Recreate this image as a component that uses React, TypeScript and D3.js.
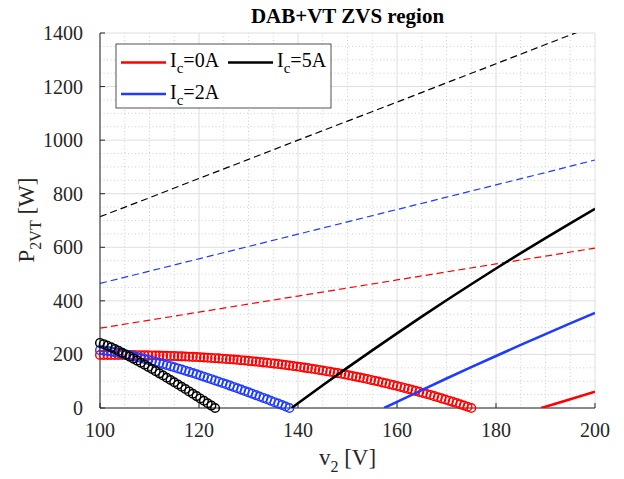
import React from 'react';
import * as d3 from 'd3';

// ---------- data ----------
const V_GRID = [
  100, 100.75, 101.5, 102.25, 103, 103.75, 104.5, 105.25, 106, 106.75,
  107.5, 108.25, 109, 109.75, 110.5, 111.25, 112, 112.75, 113.5, 114.25,
  115, 115.75, 116.5, 117.25, 118, 118.75, 119.5, 120.25, 121, 121.75,
  122.5, 123.25, 124, 124.75, 125.5, 126.25, 127, 127.75, 128.5, 129.25,
  130, 130.75, 131.5, 132.25, 133, 133.75, 134.5, 135.25, 136, 136.75,
  137.5, 138.25, 139, 139.75, 140.5, 141.25, 142, 142.75, 143.5, 144.25,
  145, 145.75, 146.5, 147.25, 148, 148.75, 149.5, 150.25, 151, 151.75,
  152.5, 153.25, 154, 154.75, 155.5, 156.25, 157, 157.75, 158.5, 159.25,
  160, 160.75, 161.5, 162.25, 163, 163.75, 164.5, 165.25, 166, 166.75,
  167.5, 168.25, 169, 169.75, 170.5, 171.25, 172, 172.75, 173.5, 174.25,
  175,
];

// ZVS boundary markers (circles)
const P_CIRC_0A = [
  198, 198, 198, 198, 197.9, 197.9, 197.8, 197.7, 197.5, 197.4,
  197.2, 197.0, 196.8, 196.5, 196.2, 195.9, 195.6, 195.2, 194.8, 194.3,
  193.8, 193.3, 192.8, 192.2, 191.6, 190.9, 190.2, 189.4, 188.7, 187.8,
  187.0, 186.1, 185.2, 184.2, 183.1, 182.1, 181.0, 179.8, 178.6, 177.3,
  176.0, 174.7, 173.3, 171.9, 170.4, 168.9, 167.3, 165.7, 164.0, 162.3,
  160.5, 158.7, 156.8, 154.8, 152.9, 150.8, 148.8, 146.6, 144.4, 142.2,
  139.9, 137.5, 135.1, 132.7, 130.2, 127.6, 125.0, 122.3, 119.5, 116.7,
  113.9, 110.9, 108.0, 104.9, 101.9, 98.7, 95.5, 92.2, 88.9, 85.5,
  82.1, 78.6, 75.0, 71.4, 67.7, 64.0, 60.2, 56.3, 52.4, 48.4,
  44.3, 40.1, 35.9, 31.7, 27.3, 22.9, 18.5, 14.0, 9.4, 4.7,
  0,
];
const P_CIRC_2A = [
  216, 214.7, 212.8, 210.6, 208.1, 205.5, 202.6, 199.6, 196.6, 193.3,
  190.0, 186.6, 183.1, 179.5, 175.8, 172.0, 168.2, 164.2, 160.2, 156.2,
  152.0, 147.8, 143.6, 139.3, 134.9, 130.5, 126.1, 121.5, 117.0, 112.3,
  107.7, 102.9, 98.2, 93.4, 88.5, 83.6, 78.7, 73.7, 68.6, 63.6,
  58.5, 53.4, 48.1, 43.0, 37.7, 32.5, 27.1, 21.7, 16.4, 11.0,
  5.5, 0,
];
const P_CIRC_5A = [
  243, 238.3, 232.6, 226.4, 219.9, 213.2, 206.2, 199.1, 191.8, 184.4,
  176.8, 169.2, 161.4, 153.5, 145.6, 137.6, 129.3, 121.2, 113.0, 104.7,
  96.2, 87.6, 79.1, 70.7, 61.9, 53.2, 44.4, 35.7, 26.8, 17.9,
  9.0, 0,
];

// solid curves
const V_SOLID_0A = [189.1, 190, 195, 200];
const P_SOLID_0A = [0, 5.0, 33.0, 61];
const V_SOLID_2A = [157.4, 160, 165, 170, 175, 180, 185, 190, 195, 200];
const P_SOLID_2A = [0, 23.0, 66.9, 110.0, 152.5, 194.3, 235.5, 276.0, 315.8, 355];
const V_SOLID_5A = [138.7, 140, 145, 150, 155, 160, 165, 170, 175, 180, 185, 190, 195, 200];
const P_SOLID_5A = [0, 17.6, 84.7, 150.6, 215.3, 278.8, 341.1, 402.2, 462.1, 520.8, 578.3, 634.5, 689.6, 743.5];

// dashed curves
const V_DASH = [100, 110, 120, 130, 140, 150, 160, 170, 180, 190, 200];
const P_DASH_0A = [298, 328, 358, 388, 418, 448, 478, 508, 538, 567, 597];
const P_DASH_2A = [465, 511, 557, 603, 649, 695, 741, 787, 833, 879, 926];
const P_DASH_5A = [714, 785, 857, 928, 1000, 1071, 1142, 1214, 1285, 1357, 1428];

const X_TICKS = [100, 120, 140, 160, 180, 200];
const Y_TICKS = [0, 200, 400, 600, 800, 1000, 1200, 1400];
const X_MINOR = [105, 110, 115, 125, 130, 135, 145, 150, 155, 165, 170, 175, 185, 190, 195];
const Y_MINOR = [50, 100, 150, 250, 300, 350, 450, 500, 550, 650, 700, 750, 850, 900, 950, 1050, 1100, 1150, 1250, 1300, 1350];

const LEGEND_LABELS = ['0A', '2A', '5A'];
const COLORS = ['#ff0000', '#1e3cff', '#000000'];

// ---------- layout ----------
const W = 624;
const H = 479;
const L = 100, R = 595, T = 33, B = 408;
const FONT = "'Liberation Serif', 'Times New Roman', Times, serif";
const TXT = { fontFamily: FONT };

export default function App() {
  const x = d3.scaleLinear().domain([100, 200]).range([L, R]);
  const y = d3.scaleLinear().domain([0, 1400]).range([B, T]);
  const line = d3
    .line<[number, number]>()
    .x((d) => x(d[0]))
    .y((d) => y(d[1]));
  const zip = (vs: number[], ps: number[]): [number, number][] => ps.map((p, i) => [vs[i], p]);

  const circles = [P_CIRC_0A, P_CIRC_2A, P_CIRC_5A];
  const solids = [zip(V_SOLID_0A, P_SOLID_0A), zip(V_SOLID_2A, P_SOLID_2A), zip(V_SOLID_5A, P_SOLID_5A)];
  const dashes = [P_DASH_0A, P_DASH_2A, P_DASH_5A].map((p) => zip(V_DASH, p));
  const axisColor = '#262626';

  // legend layout: column 1 -> 0A, 2A ; column 2 -> 5A
  const legendPos = [
    { lx: 121, ly: 62.5 },
    { lx: 121, ly: 94 },
    { lx: 228, ly: 62.5 },
  ];

  return (
    <svg
      width={W}
      height={H}
      style={{ position: 'absolute', left: 0, top: 0, background: '#fff', fontFamily: FONT }}
    >
      <defs>
        <clipPath id="plotclip">
          <rect x={L} y={T} width={R - L} height={B - T} />
        </clipPath>
      </defs>
      <rect x={0} y={0} width={W} height={H} fill="#fff" />

      {/* minor grid */}
      {X_MINOR.map((v) => (
        <line key={'xm' + v} x1={x(v)} x2={x(v)} y1={T} y2={B} stroke="#c4c4c4" strokeWidth={0.8} strokeDasharray="1,2.5" />
      ))}
      {Y_MINOR.map((v) => (
        <line key={'ym' + v} x1={L} x2={R} y1={y(v)} y2={y(v)} stroke="#c4c4c4" strokeWidth={0.8} strokeDasharray="1,2.5" />
      ))}
      {/* major grid */}
      {X_TICKS.map((v) => (
        <line key={'xg' + v} x1={x(v)} x2={x(v)} y1={T} y2={B} stroke="#dedede" strokeWidth={1} />
      ))}
      {Y_TICKS.map((v) => (
        <line key={'yg' + v} x1={L} x2={R} y1={y(v)} y2={y(v)} stroke="#dedede" strokeWidth={1} />
      ))}

      {/* dashed curves */}
      <g clipPath="url(#plotclip)">
        {dashes.map((d, i) => (
          <path key={'d' + i} d={line(d) || ''} fill="none" stroke={COLORS[i]} strokeWidth={1.2} strokeDasharray="7,4" />
        ))}
      </g>

      {/* axes */}
      <line x1={L} x2={R} y1={B} y2={B} stroke={axisColor} strokeWidth={1} />
      <line x1={L} x2={L} y1={T} y2={B} stroke={axisColor} strokeWidth={1} />
      {X_TICKS.map((v) => (
        <g key={'xt' + v}>
          <line x1={x(v)} x2={x(v)} y1={B} y2={B - 5} stroke={axisColor} strokeWidth={1} />
          <text x={x(v)} y={B + 29} textAnchor="middle" fontSize={20} fill={axisColor} style={TXT}>
            {v}
          </text>
        </g>
      ))}
      {Y_TICKS.map((v) => (
        <g key={'yt' + v}>
          <line x1={L} x2={L + 5} y1={y(v)} y2={y(v)} stroke={axisColor} strokeWidth={1} />
          <text x={L - 17} y={y(v) + 7} textAnchor="end" fontSize={20} fill={axisColor} style={TXT}>
            {v}
          </text>
        </g>
      ))}

      {/* circle markers */}
      {circles.map((ps, i) => (
        <g key={'c' + i}>
          {ps.map((p, j) => (
            <circle key={j} cx={x(V_GRID[j])} cy={y(p)} r={4.3} fill="none" stroke={COLORS[i]} strokeWidth={1.45} />
          ))}
        </g>
      ))}

      {/* solid curves */}
      <g clipPath="url(#plotclip)">
        {solids.map((d, i) => (
          <path key={'s' + i} d={line(d) || ''} fill="none" stroke={COLORS[i]} strokeWidth={2.6} />
        ))}
      </g>

      {/* title */}
      <text x={(L + R) / 2} y={23} textAnchor="middle" fontSize={21} fontWeight="bold" fill="#000" style={TXT}>
        DAB+VT ZVS region
      </text>

      {/* x label */}
      <text x={(L + R) / 2} y={465} textAnchor="middle" fontSize={23} fill={axisColor} style={TXT}>
        v<tspan dy={7} fontSize={16}>2</tspan>
        <tspan dy={-7}> [V]</tspan>
      </text>

      {/* y label */}
      <text transform={`translate(34, 220) rotate(-90)`} textAnchor="middle" fontSize={23} fill={axisColor} style={TXT}>
        P<tspan dy={7} fontSize={16}>2VT</tspan>
        <tspan dy={-7}> [W]</tspan>
      </text>

      {/* legend */}
      <rect x={116} y={44} width={215} height={64} fill="#fff" stroke={axisColor} strokeWidth={0.8} />
      {LEGEND_LABELS.map((lab, i) => {
        const { lx, ly } = legendPos[i];
        return (
          <g key={'lg' + i}>
            <line x1={lx} x2={lx + 45} y1={ly} y2={ly} stroke={COLORS[i]} strokeWidth={2.6} />
            <text x={lx + 49} y={ly + 4.5} fontSize={20} fill="#000" style={TXT}>
              I<tspan dy={6} fontSize={15}>c</tspan>
              <tspan dy={-6}>={lab}</tspan>
            </text>
          </g>
        );
      })}
    </svg>
  );
}
